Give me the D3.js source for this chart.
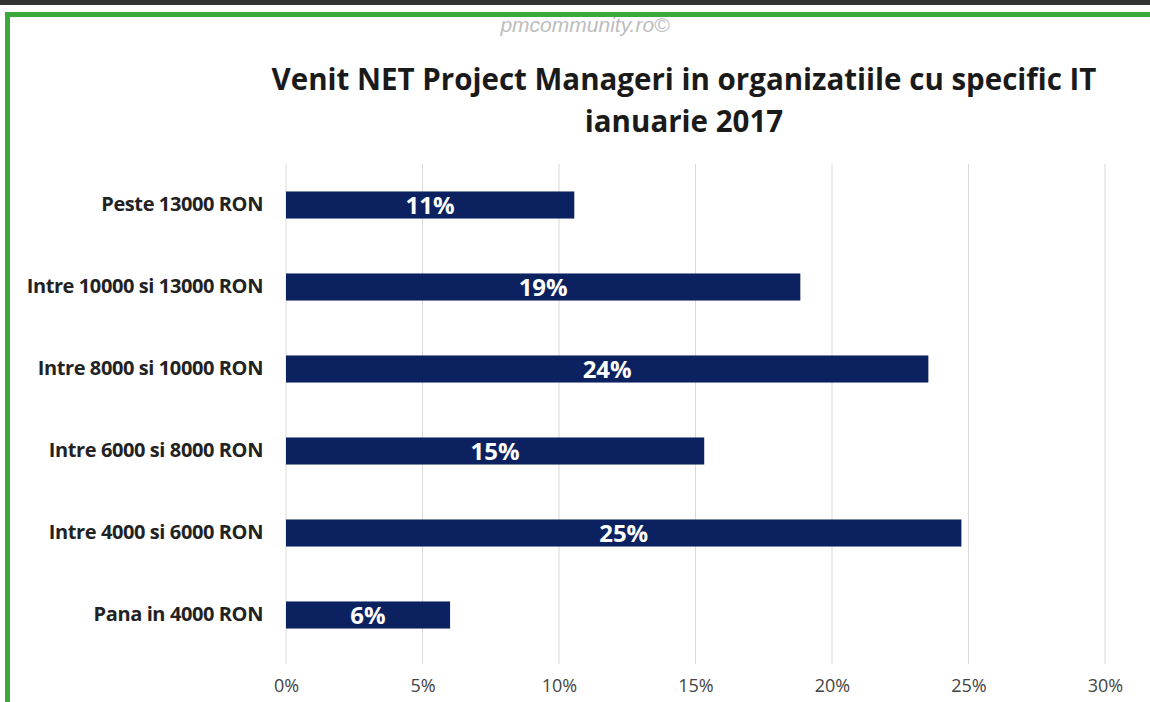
<!DOCTYPE html>
<html>
<head>
<meta charset="utf-8">
<script src="https://cdn.jsdelivr.net/npm/d3@7"></script>
<style>
  body { margin: 0; background: #fff; }
  svg { display: block; }
</style>
</head>
<body>
<svg id="chart"></svg>
<script>
// date
const categories = ["Peste 13000 RON", "Intre 10000 si 13000 RON", "Intre 8000 si 10000 RON",
  "Intre 6000 si 8000 RON", "Intre 4000 si 6000 RON", "Pana in 4000 RON"];
const values = [10.56, 18.84, 23.53, 15.32, 24.74, 6.01];
const labels = ["11%", "19%", "24%", "15%", "25%", "6%"];
const ticks = [0, 5, 10, 15, 20, 25, 30];

const width = 1150, height = 702;
const svg = d3.select('#chart').attr('width', width).attr('height', height);

const font = "'Open Sans', 'DejaVu Sans', sans-serif";

// watermark, partial acoperit de chenar
svg.append('text')
  .attr('x', 585).attr('y', 32)
  .attr('text-anchor', 'middle')
  .attr('font-family', "'Liberation Sans', sans-serif")
  .attr('font-style', 'italic')
  .attr('font-size', 21)
  .attr('fill', '#bdbdbd')
  .text('pmcommunity.ro©');

// bara de sus + chenar verde
svg.append('rect').attr('x', 0).attr('y', 0).attr('width', width).attr('height', 5).attr('fill', '#333');
svg.append('rect').attr('x', 5).attr('y', 12).attr('width', width).attr('height', 5).attr('fill', '#3aa83a');
svg.append('rect').attr('x', 5).attr('y', 12).attr('width', 5).attr('height', height).attr('fill', '#3aa83a');

// titlu
const title = svg.append('text')
  .attr('text-anchor', 'middle')
  .attr('font-family', font)
  .attr('font-weight', 'bold')
  .attr('font-size', 29.5)
  .attr('fill', '#1a1a1a');
title.append('tspan').attr('x', 684).attr('y', 90).text('Venit NET Project Manageri in organizatiile cu specific IT');
title.append('tspan').attr('x', 684).attr('y', 132).text('ianuarie 2017');

const x = d3.scaleLinear().domain([0, 30]).range([286, 1105]);
const y = d3.scaleBand().domain(categories).range([164, 656]).paddingInner(0.67).paddingOuter(0.335);

// linii de grila
svg.append('g').selectAll('line')
  .data(ticks)
  .enter()
  .append('line')
  .attr('x1', d => x(d)).attr('x2', d => x(d))
  .attr('y1', 164).attr('y2', 664)
  .attr('stroke', '#d9d9d9').attr('stroke-width', 1);

const xAxis = svg.append('g')
  .attr('transform', 'translate(0,664)')
  .call(d3.axisBottom(x).tickValues(ticks).tickFormat(d => d + '%').tickSize(0).tickPadding(15));
xAxis.select('.domain').remove();
xAxis.selectAll('text')
  .attr('font-family', font).attr('font-size', 18).attr('fill', '#444');

const yAxis = svg.append('g')
  .attr('transform', 'translate(263,0)')
  .call(d3.axisLeft(y).tickSize(0).tickPadding(0));
yAxis.select('.domain').remove();
yAxis.selectAll('text')
  .attr('font-family', font).attr('font-size', 20).attr('font-weight', 'bold').attr('fill', '#222')
  .attr('letter-spacing', '-0.4px');

const bars = svg.append('g');
bars.selectAll('rect')
  .data(categories)
  .enter()
  .append('rect')
  .attr('x', x(0))
  .attr('y', d => y(d))
  .attr('width', (d, i) => x(values[i]) - x(0))
  .attr('height', y.bandwidth())
  .attr('fill', '#0b2160');

bars.selectAll('text')
  .data(categories)
  .enter()
  .append('text')
  .attr('x', (d, i) => (x(values[i]) + x(0)) / 2)
  .attr('y', d => y(d) + y.bandwidth() / 2)
  .attr('dy', '0.36em')
  .attr('text-anchor', 'middle')
  .attr('font-family', font)
  .attr('font-weight', 'bold')
  .attr('font-size', 24)
  .attr('fill', '#fff')
  .text((d, i) => labels[i]);
</script>
</body>
</html>
